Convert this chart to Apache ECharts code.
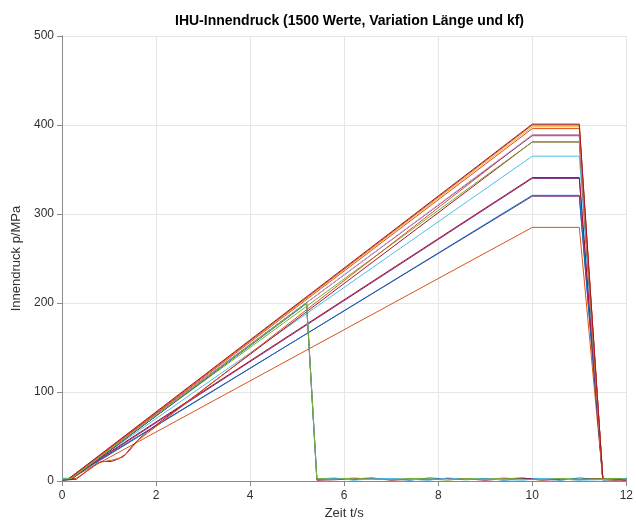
<!DOCTYPE html>
<html>
<head>
<meta charset="utf-8">
<script src="https://cdn.jsdelivr.net/npm/echarts@6/dist/echarts.min.js"></script>
<style>html,body{margin:0;padding:0;background:#fff}#c{width:636px;height:525px}</style>
</head>
<body>
<div id="c"></div>
<script>
// ---- data ----
const xTicks = [0, 2, 4, 6, 8, 10, 12];
const yTicks = [0, 100, 200, 300, 400, 500];

// time arrays (s) and pressure arrays (MPa) of the curves
const tFull   = [0, 0.15, 10, 11, 11.5, 11.75, 12];
const pTop1   = [2, 3, 401, 401, 3, 2, 3];
const pTop2   = [1, 2, 400, 400, 2, 1, 2];
const pTop3   = [2, 3, 398, 398, 2, 3, 1];
const pTop4   = [3, 2, 396, 396, 3, 2, 2];
const p389a   = [2, 2, 389, 389, 2, 1, 2];
const p389b   = [1, 3, 388, 388, 3, 2, 1];
const p381    = [2, 2, 381, 381, 2, 3, 2];
const p365    = [3, 2, 365, 365, 1, 2, 3];
const p341a   = [2, 3, 341, 341, 2, 2, 1];
const p341b   = [1, 2, 340, 340, 3, 1, 2];
const p321a   = [2, 2, 321, 321, 2, 3, 2];
const p321b   = [3, 3, 320, 320, 1, 2, 3];
const p285    = [2, 2, 285, 285, 2, 1, 2];

// curves with a plateau during the start phase
const tBumpA  = [0, 0.3, 0.75, 0.85, 1.05, 1.2, 1.35, 1.5, 1.65, 1.8, 10, 11, 11.5, 12];
const pBumpA  = [1, 2, 20, 22, 22, 25, 30, 40, 48, 55, 381, 381, 2, 2];
const tBumpB  = [0, 0.3, 0.8, 1.1, 1.3, 1.45, 1.6, 10, 11, 11.5, 12];
const pBumpB  = [2, 3, 21, 24, 27, 35, 45, 389, 389, 3, 2];

// curves that fail at about 5.3 s
const tFail   = [0, 0.2, 5.2, 5.42, 5.8, 6.2, 6.6, 7.0, 7.4, 7.8, 8.2, 8.6, 9.0, 9.4, 9.8, 10.2, 10.6, 11.0, 11.4, 11.8, 12];
const pFailA  = [2, 3, 200.5, 3, 2, 3.5, 2, 1.5, 3, 2.5, 1, 3, 2, 3.5, 2, 1.5, 3, 2, 2.5, 3, 2];
const pFailB  = [1, 2, 199.5, 2, 3, 1.5, 3, 2.5, 1, 3.5, 2.5, 1.5, 3, 1, 3, 2.5, 1, 3.5, 2, 1.5, 3];
const pFailC  = [2, 2, 200, 1, 1.5, 2.5, 3.5, 1, 2, 1.5, 3, 2.5, 1, 2.5, 3.5, 1, 2, 1.5, 3, 2, 1];
const pFailD  = [3, 3, 200, 2.5, 3.5, 1, 2.5, 3, 2, 1, 3.5, 2, 2.5, 1.5, 1, 3, 2.5, 1, 1.5, 2.5, 3];

function pts(t, p) { return t.map((v, i) => [v, p[i]]); }

const curves = [
  [tFull, p285,  '#D95319'],
  [tFull, p321b, '#7E2F8E'],
  [tFull, p321a, '#0072BD'],
  [tFull, p341b, '#7E2F8E'],
  [tFull, p341a, '#A2142F'],
  [tFull, p365,  '#4DBEEE'],
  [tBumpA, pBumpA, '#A2142F'],
  [tFull, p381,  '#77AC30'],
  [tBumpB, pBumpB, '#D95319'],
  [tFull, p389b, '#7E2F8E'],
  [tFull, p389a, '#C9A0D0'],
  [tFull, pTop4, '#D95319'],
  [tFull, pTop3, '#EDB120'],
  [tFull, pTop2, '#D95319'],
  [tFull, pTop1, '#A2142F'],
  [tFail, pFailB, '#0072BD'],
  [tFail, pFailC, '#A2142F'],
  [tFail, pFailD, '#4DBEEE'],
  [tFail, pFailA, '#77AC30']
];

const axisCol = '#8a8a8a';
const labelCol = '#303030';
const font = 'Liberation Sans, Arial, Helvetica, sans-serif';

const chart = echarts.init(document.getElementById('c'), null, {renderer: 'canvas'});
chart.setOption({
  animation: false,
  title: {
    text: 'IHU-Innendruck (1500 Werte, Variation Länge und kf)',
    left: 170, top: 9,
    textStyle: {fontFamily: font, fontSize: 14, fontWeight: 'bold', color: '#000'}
  },
  grid: {left: 62, right: 6, top: 36, bottom: 40, containLabel: false},
  xAxis: [{
    type: 'value', min: 0, max: 12, interval: 2,
    name: 'Zeit t/s', nameLocation: 'middle', nameGap: 25,
    nameTextStyle: {fontFamily: font, fontSize: 13, color: labelCol},
    axisLine: {show: true, onZero: false, lineStyle: {color: axisCol, width: 1}},
    axisTick: {show: false},
    axisLabel: {fontFamily: font, fontSize: 12, color: labelCol, margin: 9,
      formatter: v => xTicks.includes(v) ? String(v) : ''},
    splitLine: {show: true, lineStyle: {color: '#e6e6e6', width: 1}}
  }, {
    type: 'value', min: 0, max: 12, interval: 2, position: 'top',
    axisLine: {show: true, lineStyle: {color: axisCol, width: 1}},
    axisTick: {show: true, inside: true, length: 5, lineStyle: {color: axisCol}},
    axisLabel: {show: false}, splitLine: {show: false}
  }],
  yAxis: [{
    type: 'value', min: 0, max: 500, interval: 100, position: 'left',
    name: 'Innendruck p/MPa', nameLocation: 'middle', nameGap: 35, nameRotate: 90,
    nameTextStyle: {fontFamily: font, fontSize: 13, color: labelCol},
    axisLine: {show: true, onZero: false, lineStyle: {color: axisCol, width: 1}},
    axisTick: {show: false},
    axisLabel: {fontFamily: font, fontSize: 12, color: labelCol, margin: 8,
      formatter: v => yTicks.includes(v) ? String(v) : ''},
    splitLine: {show: true, lineStyle: {color: '#e6e6e6', width: 1}}
  }, {
    type: 'value', min: 0, max: 500, interval: 100, position: 'right',
    axisLine: {show: true, lineStyle: {color: axisCol, width: 1}},
    axisTick: {show: true, inside: true, length: 5, lineStyle: {color: axisCol}},
    axisLabel: {show: false}, splitLine: {show: false}
  }],
  series: curves.map(c => ({
    type: 'line', data: pts(c[0], c[1]), showSymbol: false, symbol: 'none',
    lineStyle: {color: c[2], width: 1}, itemStyle: {color: c[2]},
    clip: true, silent: true
  }))
});
</script>
</body>
</html>
